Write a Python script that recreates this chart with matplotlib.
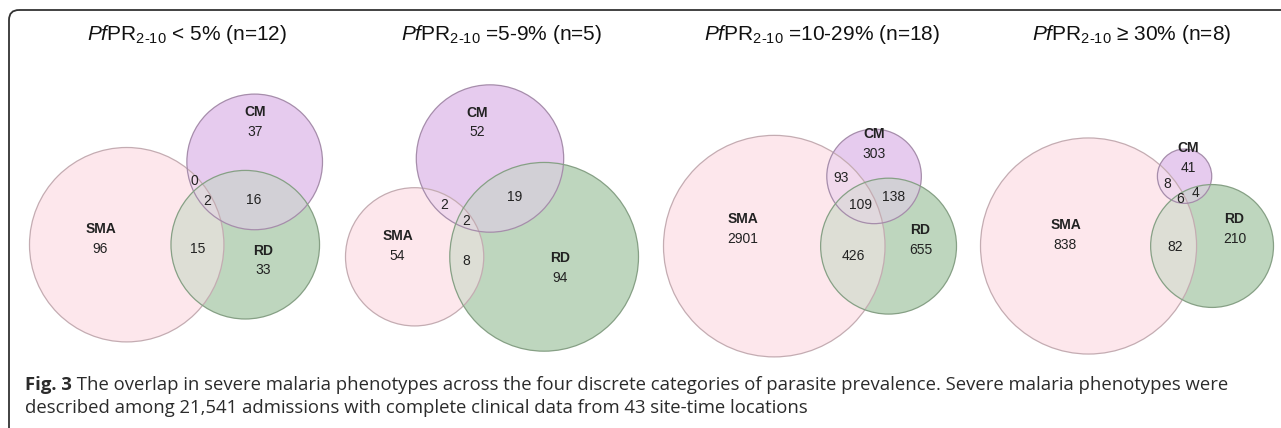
import numpy as np
import matplotlib
matplotlib.use('Agg')
from matplotlib import pyplot as plt
from matplotlib.patches import Circle, FancyBboxPatch

plt.rcParams['font.family'] = ['Liberation Sans', 'DejaVu Sans']
plt.rcParams['mathtext.fontset'] = 'custom'
plt.rcParams['mathtext.rm'] = 'Liberation Sans'
plt.rcParams['mathtext.it'] = 'Liberation Sans:italic'

# panel titles
titles = [r'$\mathit{Pf}\mathrm{PR}_{\text{2-10}}$ < 5% (n=12)',
          r'$\mathit{Pf}\mathrm{PR}_{\text{2-10}}$ =5-9% (n=5)',
          r'$\mathit{Pf}\mathrm{PR}_{\text{2-10}}$ =10-29% (n=18)',
          r'$\mathit{Pf}\mathrm{PR}_{\text{2-10}}$ ≥ 30% (n=8)']
set_names = ['SMA', 'CM', 'RD']

# admissions in each region of the diagram, one value per panel
sma_only = [96, 54, 2901, 838]
cm_only = [37, 52, 303, 41]
rd_only = [33, 94, 655, 210]
sma_cm = [0, 2, 93, 8]
sma_rd = [15, 8, 426, 82]
cm_rd = [16, 19, 138, 4]
all_three = [2, 2, 109, 6]

caption_bold = 'Fig. 3'
caption_1 = ' The overlap in severe malaria phenotypes across the four discrete categories of parasite prevalence. Severe malaria phenotypes were'
caption_2 = 'described among 21,541 admissions with complete clinical data from 43 site-time locations'

# layout (pixels)
W, H = 1281, 428
diag_width = 293
diag_cx = [176, 492, 810, 1127]
diag_cy = [218, 218, 243, 246]
title_x = [187, 502, 822, 1132]
title_y = 34
single_cols = np.array([[253, 231, 236], [230, 203, 238], [190, 214, 190]]) / 255.0
edge_cols = ['#c4acb2', '#a68dab', '#86a085']
text_col = '#222222'


def lens_area(r1, r2, d):
    if d >= r1 + r2:
        return 0.0
    if d <= abs(r1 - r2):
        return np.pi * min(r1, r2) ** 2
    a1 = r1 ** 2 * np.arccos((d * d + r1 * r1 - r2 * r2) / (2 * d * r1))
    a2 = r2 ** 2 * np.arccos((d * d + r2 * r2 - r1 * r1) / (2 * d * r2))
    a3 = 0.5 * np.sqrt((-d + r1 + r2) * (d + r1 - r2) * (d - r1 + r2) * (d + r1 + r2))
    return a1 + a2 - a3


def centre_distance(r1, r2, overlap):
    lo, hi = abs(r1 - r2) + 1e-9, r1 + r2
    if overlap <= 0:
        return hi
    for _ in range(100):
        mid = 0.5 * (lo + hi)
        if lens_area(r1, r2, mid) > overlap:
            lo = mid
        else:
            hi = mid
    return 0.5 * (lo + hi)


def venn_layout(i):
    tot_s = sma_only[i] + sma_cm[i] + sma_rd[i] + all_three[i]
    tot_c = cm_only[i] + sma_cm[i] + cm_rd[i] + all_three[i]
    tot_r = rd_only[i] + sma_rd[i] + cm_rd[i] + all_three[i]
    r = np.sqrt(np.array([tot_s, tot_c, tot_r]) / np.pi)
    d_sr = centre_distance(r[0], r[2], sma_rd[i] + all_three[i])
    d_sc = centre_distance(r[0], r[1], sma_cm[i] + all_three[i])
    d_rc = centre_distance(r[2], r[1], cm_rd[i] + all_three[i])
    cx = (d_sc ** 2 - d_rc ** 2 + d_sr ** 2) / (2 * d_sr)
    cy = np.sqrt(max(d_sc ** 2 - cx ** 2, 0))
    centres = np.array([[0, 0], [cx, cy], [d_sr, 0]])
    left = (centres[:, 0] - r).min()
    right = (centres[:, 0] + r).max()
    bottom = (centres[:, 1] - r).min()
    top = (centres[:, 1] + r).max()
    scale = diag_width / (right - left)
    px = diag_cx[i] + scale * (centres[:, 0] - 0.5 * (left + right))
    py = diag_cy[i] - scale * (centres[:, 1] - 0.5 * (bottom + top))
    return px, py, r * scale


fig = plt.figure(figsize=(W / 100, H / 100), dpi=100)
ax = fig.add_axes([0, 0, 1, 1])

yy, xx = np.mgrid[0:H, 0:W] + 0.5
img = np.ones((H, W, 3))

for i in range(4):
    px, py, pr = venn_layout(i)
    dist = [np.sqrt((xx - px[k]) ** 2 + (yy - py[k]) ** 2) for k in range(3)]
    inside = [dist[k] <= pr[k] for k in range(3)]
    # distance of each pixel to the nearest circle outline
    edge_dist = np.minimum.reduce([np.abs(dist[k] - pr[k]) for k in range(3)])
    n_in = inside[0].astype(float) + inside[1] + inside[2]
    acc = np.zeros((H, W, 3))
    for k in range(3):
        acc += inside[k][..., None] * single_cols[k]
    any_in = n_in > 0
    img[any_in] = acc[any_in] / n_in[any_in][:, None]

    for k in range(3):
        ax.add_patch(Circle((px[k], py[k]), pr[k], fill=False, ec=edge_cols[k], lw=0.9, zorder=2))

    s, c, rd = inside
    regions = [
        (s & ~c & ~rd, sma_only[i], set_names[0]),
        (c & ~s & ~rd, cm_only[i], set_names[1]),
        (rd & ~s & ~c, rd_only[i], set_names[2]),
        (s & c & ~rd, sma_cm[i], None),
        (s & rd & ~c, sma_rd[i], None),
        (c & rd & ~s, cm_rd[i], None),
        (s & c & rd, all_three[i], None),
    ]
    for mask, val, name in regions:
        if mask.sum() == 0:
            continue
        if name is None:
            mx, my = xx[mask].mean(), yy[mask].mean()
            ax.text(mx, my, str(val), ha='center', va='center', fontsize=10, color=text_col, zorder=3)
        else:
            j = np.argmax(np.where(mask, edge_dist, -1))
            mx, my = xx.flat[j], yy.flat[j]
            ax.text(mx, my - 21, name, ha='center', va='center', fontsize=10,
                    fontweight='bold', color=text_col, zorder=3)
            ax.text(mx, my - 1, str(val), ha='center', va='center', fontsize=10, color=text_col, zorder=3)

    ax.text(title_x[i], title_y, titles[i], ha='center', va='center', fontsize=15, color='#111111')

ax.imshow(img, extent=(0, W, H, 0), interpolation='nearest', aspect='auto', zorder=0)

box = FancyBboxPatch((9, 10), W + 40, H + 40, boxstyle='round,pad=0,rounding_size=10',
                     fill=False, ec='#333333', lw=1.3, zorder=4)
ax.add_patch(box)

ax.set_xlim(0, W)
ax.set_ylim(H, 0)
ax.axis('off')

fig.canvas.draw()
renderer = fig.canvas.get_renderer()
t_bold = ax.text(25, 385, caption_bold, ha='left', va='center', fontsize=13.3,
                 fontweight='bold', family='Open Sans', color='#2b2b2b')
bb = t_bold.get_window_extent(renderer=renderer)
x_next = ax.transData.inverted().transform((bb.x1, bb.y0))[0]
ax.text(x_next, 385, caption_1, ha='left', va='center', fontsize=13.3, family='Open Sans', color='#2b2b2b')
ax.text(25, 408, caption_2, ha='left', va='center', fontsize=13.3, family='Open Sans', color='#2b2b2b')

fig.savefig('out.png', dpi=100)
